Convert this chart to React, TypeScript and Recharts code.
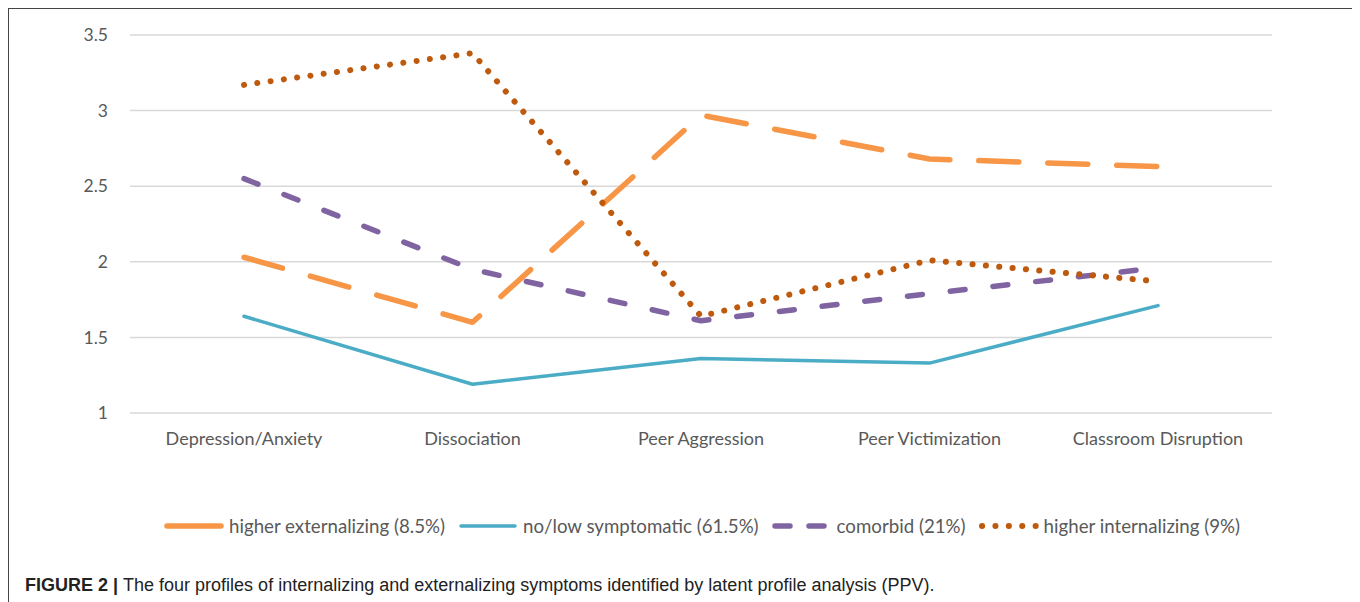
import React from "react";
import { LineChart, Line, XAxis, YAxis, CartesianGrid } from "recharts";

const categories = ["Depression/Anxiety", "Dissociation", "Peer Aggression", "Peer Victimization", "Classroom Disruption"];
const higherExternalizing = [2.03, 1.6, 2.97, 2.68, 2.63];
const noLowSymptomatic = [1.64, 1.19, 1.36, 1.33, 1.71];
const comorbid = [2.55, 1.95, 1.61, 1.79, 1.96];
const higherInternalizing = [3.17, 3.38, 1.64, 2.01, 1.87];
const yTicks = [1, 1.5, 2, 2.5, 3, 3.5];

const seriesDefs = [
  { key: "ext", name: "higher externalizing (8.5%)", values: higherExternalizing, color: "#F79646", width: 5.5, dash: "40 29" },
  { key: "low", name: "no/low symptomatic (61.5%)", values: noLowSymptomatic, color: "#4BACC6", width: 3.5, dash: undefined as string | undefined },
  { key: "com", name: "comorbid (21%)", values: comorbid, color: "#8064A2", width: 5.5, dash: "15 28" },
  { key: "int", name: "higher internalizing (9%)", values: higherInternalizing, color: "#BE5A0E", width: 6, dash: "0.1 13.3" },
];

const data = categories.map((c, i) => {
  const row: Record<string, string | number> = { cat: c };
  seriesDefs.forEach((s) => (row[s.key] = s.values[i]));
  return row;
});

const FONT = "Lato, 'Open Sans', sans-serif";

export default function App() {
  return (
    <div style={{ width: 1347, height: 620, border: "1px solid #444", position: "relative", background: "#fff", boxSizing: "content-box" }}>
      <LineChart width={1347} height={540} data={data} margin={{ top: 26, right: 84, bottom: 106, left: 0 }}>
        <CartesianGrid horizontal vertical={false} stroke="#D9D9D9" strokeWidth={1.5} />
        <XAxis
          dataKey="cat"
          height={30}
          axisLine={false}
          tickLine={false}
          tickSize={0}
          tickMargin={19}
          padding={{ left: 114, right: 114 }}
          interval={0}
          tick={{ fill: "#595959", fontSize: 18, fontFamily: FONT }}
        />
        <YAxis
          domain={[1, 3.5]}
          ticks={yTicks}
          width={121}
          axisLine={false}
          tickLine={false}
          tickSize={0}
          tickMargin={22}
          tick={{ fill: "#595959", fontSize: 17.5, fontFamily: FONT }}
        />
        {seriesDefs.map((s) => (
          <Line
            key={s.key}
            dataKey={s.key}
            name={s.name}
            type="linear"
            stroke={s.color}
            strokeWidth={s.width}
            strokeDasharray={s.dash}
            strokeLinecap="round"
            strokeLinejoin="round"
            dot={false}
            activeDot={false}
            isAnimationActive={false}
          />
        ))}
      </LineChart>
      <div style={{ position: "absolute", left: 154, top: 506, display: "flex", alignItems: "center", fontFamily: FONT, fontSize: 18.7, color: "#595959", whiteSpace: "nowrap" }}>
        {seriesDefs.map((s) => (
          <div key={s.key} style={{ display: "flex", alignItems: "center", marginRight: 12 }}>
            <svg width={62} height={20} style={{ marginRight: 4 }}>
              <line x1={4} y1={10} x2={58} y2={10} stroke={s.color} strokeWidth={s.width} strokeDasharray={s.key === "com" ? "15 19" : s.key === "ext" ? undefined : s.dash} strokeLinecap="round" />
            </svg>
            <span>{s.name}</span>
          </div>
        ))}
      </div>
      <div style={{ position: "absolute", left: 16, top: 566, fontSize: 18, color: "#222", whiteSpace: "nowrap" }}>
        <span style={{ fontFamily: "'Liberation Sans', Arial, sans-serif", fontWeight: "bold" }}>FIGURE 2 | </span>
        <span style={{ fontFamily: "'Liberation Sans Narrow', 'Liberation Sans', sans-serif" }}>The four profiles of internalizing and externalizing symptoms identified by latent profile analysis (PPV).</span>
      </div>
    </div>
  );
}
